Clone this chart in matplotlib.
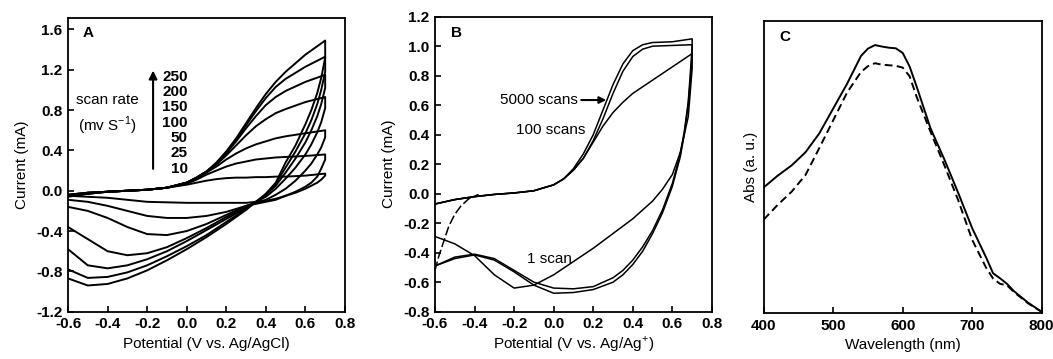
import numpy as np
import matplotlib
matplotlib.use("Agg")
from matplotlib import pyplot as plt
from matplotlib.ticker import FormatStrFormatter, MultipleLocator

plt.rcParams['font.family'] = ['Liberation Sans', 'DejaVu Sans']
plt.rcParams['mathtext.fontset'] = 'custom'
plt.rcParams['mathtext.rm'] = 'Liberation Sans'
plt.rcParams['axes.unicode_minus'] = False
plt.rcParams['axes.linewidth'] = 1.3

# ---------------- panel A : CV at different scan rates ----------------
scan_rates = [10, 25, 50, 100, 150, 200, 250]

# forward (anodic) sweep potentials, V
a_fwd_v = [-0.60, -0.50, -0.40, -0.30, -0.20, -0.10, 0.00, 0.05, 0.10, 0.15,
           0.20, 0.25, 0.30, 0.35, 0.40, 0.45, 0.50, 0.60, 0.70]
a_fwd_10 = [-0.04, -0.02, -0.01, 0.0, 0.01, 0.03, 0.06, 0.08, 0.10, 0.115,
            0.125, 0.13, 0.13, 0.135, 0.135, 0.14, 0.14, 0.15, 0.17]
a_fwd_25 = [-0.04, -0.02, -0.01, 0.0, 0.01, 0.03, 0.07, 0.11, 0.16, 0.20,
            0.24, 0.27, 0.29, 0.31, 0.32, 0.33, 0.335, 0.345, 0.36]
a_fwd_50 = [-0.04, -0.02, -0.01, 0.0, 0.01, 0.03, 0.08, 0.12, 0.18, 0.24,
            0.31, 0.37, 0.42, 0.46, 0.49, 0.52, 0.54, 0.57, 0.60]
a_fwd_100 = [-0.05, -0.02, -0.01, 0.0, 0.01, 0.03, 0.08, 0.13, 0.19, 0.26,
             0.35, 0.45, 0.55, 0.64, 0.71, 0.77, 0.81, 0.88, 0.93]
a_fwd_150 = [-0.05, -0.03, -0.01, 0.0, 0.01, 0.03, 0.08, 0.13, 0.19, 0.27,
             0.37, 0.49, 0.62, 0.74, 0.85, 0.93, 0.99, 1.08, 1.15]
a_fwd_200 = [-0.05, -0.03, -0.01, 0.0, 0.01, 0.03, 0.08, 0.13, 0.19, 0.27,
             0.38, 0.51, 0.65, 0.79, 0.92, 1.03, 1.11, 1.23, 1.33]
a_fwd_250 = [-0.06, -0.03, -0.01, 0.0, 0.01, 0.03, 0.08, 0.13, 0.19, 0.28,
             0.39, 0.52, 0.67, 0.82, 0.96, 1.08, 1.18, 1.35, 1.49]

# reverse (cathodic) sweep potentials, V
a_rev_v = [0.70, 0.70, 0.68, 0.66, 0.63, 0.60, 0.55, 0.50, 0.45, 0.40, 0.35,
           0.30, 0.20, 0.10, 0.00, -0.10, -0.20, -0.30, -0.40, -0.50, -0.60]
a_rev_10 = [0.17, 0.15, 0.11, 0.08, 0.05, 0.02, -0.02, -0.05, -0.08, -0.10, -0.11,
            -0.12, -0.12, -0.12, -0.12, -0.115, -0.11, -0.09, -0.07, -0.06, -0.05]
a_rev_25 = [0.36, 0.31, 0.22, 0.14, 0.08, 0.04, -0.01, -0.05, -0.09, -0.11, -0.13,
            -0.15, -0.21, -0.25, -0.27, -0.27, -0.25, -0.20, -0.15, -0.11, -0.09]
a_rev_50 = [0.60, 0.53, 0.43, 0.36, 0.27, 0.20, 0.10, 0.02, -0.04, -0.09, -0.12,
            -0.15, -0.24, -0.33, -0.40, -0.44, -0.43, -0.36, -0.27, -0.20, -0.16]
a_rev_100 = [0.93, 0.82, 0.68, 0.58, 0.46, 0.36, 0.23, 0.12, 0.02, -0.06, -0.11,
             -0.16, -0.26, -0.37, -0.47, -0.56, -0.62, -0.64, -0.60, -0.48, -0.36]
a_rev_150 = [1.15, 1.02, 0.86, 0.74, 0.60, 0.48, 0.32, 0.18, 0.05, -0.04, -0.11,
             -0.17, -0.28, -0.39, -0.50, -0.60, -0.68, -0.74, -0.77, -0.74, -0.58]
a_rev_200 = [1.33, 1.18, 1.00, 0.86, 0.70, 0.57, 0.39, 0.23, 0.07, -0.04, -0.11,
             -0.18, -0.31, -0.44, -0.55, -0.65, -0.74, -0.81, -0.855, -0.865, -0.78]
a_rev_250 = [1.49, 1.32, 1.12, 0.97, 0.80, 0.66, 0.45, 0.28, 0.08, -0.03, -0.11,
             -0.19, -0.33, -0.46, -0.58, -0.69, -0.79, -0.87, -0.925, -0.94, -0.87]

a_fwd = [a_fwd_10, a_fwd_25, a_fwd_50, a_fwd_100, a_fwd_150, a_fwd_200, a_fwd_250]
a_rev = [a_rev_10, a_rev_25, a_rev_50, a_rev_100, a_rev_150, a_rev_200, a_rev_250]

# ---------------- panel B : CV after cycling ----------------
b_fwd_v = [-0.60, -0.50, -0.40, -0.30, -0.20, -0.10, 0.00, 0.05, 0.10, 0.15,
           0.20, 0.25, 0.30, 0.35, 0.40, 0.45, 0.50, 0.60, 0.70]
b_fwd_1 = [-0.07, -0.04, -0.02, -0.005, 0.005, 0.02, 0.06, 0.10, 0.16, 0.24,
           0.35, 0.46, 0.55, 0.62, 0.68, 0.725, 0.77, 0.86, 0.95]
b_fwd_100 = [-0.07, -0.04, -0.02, -0.005, 0.005, 0.02, 0.06, 0.10, 0.16, 0.24,
             0.36, 0.51, 0.68, 0.83, 0.93, 0.98, 1.00, 1.005, 1.01]
b_fwd_5000 = [-0.07, -0.04, -0.02, -0.005, 0.005, 0.02, 0.06, 0.10, 0.17, 0.27,
              0.40, 0.57, 0.74, 0.88, 0.97, 1.01, 1.025, 1.03, 1.05]

b_rev_v = [0.70, 0.70, 0.69, 0.68, 0.66, 0.64, 0.60, 0.55, 0.50, 0.45, 0.40,
           0.35, 0.30, 0.20, 0.10, 0.00, -0.10, -0.20, -0.30, -0.40, -0.50, -0.60]
b_rev_1 = [0.95, 0.85, 0.68, 0.52, 0.40, 0.28, 0.13, 0.03, -0.05, -0.11, -0.17,
           -0.22, -0.27, -0.37, -0.46, -0.55, -0.62, -0.64, -0.55, -0.42, -0.34, -0.29]
b_rev_100 = [1.01, 0.95, 0.76, 0.60, 0.40, 0.25, 0.05, -0.13, -0.27, -0.39, -0.48,
             -0.55, -0.60, -0.65, -0.67, -0.675, -0.62, -0.53, -0.45, -0.415, -0.44, -0.49]
b_rev_5000 = [1.05, 1.00, 0.80, 0.62, 0.42, 0.27, 0.07, -0.11, -0.25, -0.36, -0.45,
              -0.52, -0.57, -0.63, -0.645, -0.64, -0.60, -0.52, -0.44, -0.41, -0.43, -0.49]

# start of the cycled sweep (drawn broken in the original)
b_start_v = [-0.60, -0.58, -0.55, -0.53, -0.50, -0.47, -0.43, -0.38]
b_start_i = [-0.52, -0.42, -0.30, -0.22, -0.14, -0.085, -0.035, -0.005]

# ---------------- panel C : absorption spectra ----------------
wavelength = [400, 420, 440, 460, 480, 500, 520, 540, 550, 560, 570, 580, 590,
              600, 610, 620, 640, 660, 680, 700, 720, 730, 740, 750, 760, 780, 800]
abs_solid = [0.43, 0.47, 0.505, 0.55, 0.615, 0.70, 0.785, 0.88, 0.905, 0.917,
             0.912, 0.908, 0.906, 0.89, 0.843, 0.775, 0.632, 0.525, 0.41, 0.29,
             0.19, 0.136, 0.119, 0.10, 0.075, 0.036, 0.004]
abs_dashed = [0.32, 0.37, 0.415, 0.472, 0.565, 0.66, 0.755, 0.825, 0.845, 0.855,
              0.85, 0.848, 0.846, 0.84, 0.81, 0.74, 0.62, 0.505, 0.385, 0.25,
              0.155, 0.118, 0.10, 0.095, 0.072, 0.034, 0.004]

FS = 11
fig = plt.figure(figsize=(10.53, 3.59), dpi=100)


def style(ax):
    ax.tick_params(direction='in', length=4, width=1.2, labelsize=FS, pad=4,
                   top=False, right=False)
    for lbl in ax.get_xticklabels() + ax.get_yticklabels():
        lbl.set_fontweight('bold')


# ---- A
axA = fig.add_axes([0.0646, 0.1318, 0.263, 0.817])
for fwd, rev in zip(a_fwd, a_rev):
    axA.plot(a_fwd_v + a_rev_v, fwd + rev, color='k', lw=1.4,
             solid_joinstyle='round')
axA.set_xlim(-0.6, 0.8)
axA.set_ylim(-1.2, 1.71)
axA.xaxis.set_major_locator(MultipleLocator(0.2))
axA.yaxis.set_major_locator(MultipleLocator(0.4))
axA.xaxis.set_major_formatter(FormatStrFormatter('%.1f'))
axA.yaxis.set_major_formatter(FormatStrFormatter('%.1f'))
axA.set_xlabel('Potential (V vs. Ag/AgCl)', fontsize=FS, labelpad=4)
axA.set_ylabel('Current (mA)', fontsize=FS, labelpad=5)
style(axA)
axA.text(0.072, 0.95, 'A', transform=axA.transAxes, fontsize=FS,
         fontweight='bold', ha='center', va='center')
axA.text(-0.40, 0.90, 'scan rate', fontsize=FS, ha='center', va='center')
axA.text(-0.40, 0.64, r'(mv S$^{\mathregular{-1}}$)', fontsize=FS,
         ha='center', va='center')
axA.annotate('', xy=(-0.17, 1.22), xytext=(-0.17, 0.19),
             arrowprops=dict(arrowstyle='-|>', lw=1.5, color='k',
                             mutation_scale=12))
label_y = np.linspace(0.22, 1.13, len(scan_rates))
for rate, yy in zip(scan_rates, label_y):
    axA.text(0.005, yy, str(rate), fontsize=FS, fontweight='bold',
             ha='right', va='center')

# ---- B
axB = fig.add_axes([0.4131, 0.1318, 0.263, 0.8217])
axB.plot(b_fwd_v + b_rev_v, b_fwd_1 + b_rev_1, color='k', lw=1.1)
axB.plot(b_fwd_v + b_rev_v, b_fwd_100 + b_rev_100, color='k', lw=1.1)
axB.plot(b_fwd_v + b_rev_v, b_fwd_5000 + b_rev_5000, color='k', lw=1.1)
axB.plot(b_start_v, b_start_i, color='k', lw=1.1, linestyle=(0, (6, 2)))
axB.set_xlim(-0.6, 0.8)
axB.set_ylim(-0.8, 1.2)
axB.xaxis.set_major_locator(MultipleLocator(0.2))
axB.yaxis.set_major_locator(MultipleLocator(0.2))
axB.xaxis.set_major_formatter(FormatStrFormatter('%.1f'))
axB.yaxis.set_major_formatter(FormatStrFormatter('%.1f'))
axB.set_xlabel(r'Potential (V vs. Ag/Ag$^{+}$)', fontsize=FS, labelpad=2)
axB.set_ylabel('Current (mA)', fontsize=FS, labelpad=5)
style(axB)
axB.text(0.078, 0.944, 'B', transform=axB.transAxes, fontsize=FS,
         fontweight='bold', ha='center', va='center')
axB.text(0.12, 0.635, '5000 scans', fontsize=FS, ha='right', va='center')
axB.annotate('', xy=(0.28, 0.635), xytext=(0.125, 0.635),
             arrowprops=dict(arrowstyle='-|>', lw=1.5, color='k',
                             mutation_scale=10))
axB.text(0.158, 0.43, '100 scans', fontsize=FS, ha='right', va='center')
axB.text(-0.02, -0.44, '1 scan', fontsize=FS, ha='center', va='center')

# ---- C
axC = fig.add_axes([0.7253, 0.128, 0.264, 0.814])
axC.plot(wavelength, abs_solid, color='k', lw=1.4)
axC.plot(wavelength, abs_dashed, color='k', lw=1.4, linestyle=(0, (4, 2.2)))
axC.set_xlim(400, 800)
axC.set_ylim(0, 1)
axC.set_xticks([400, 500, 600, 700, 800])
axC.set_yticks([])
axC.set_xlabel('Wavelength (nm)', fontsize=FS, labelpad=4)
axC.set_ylabel('Abs (a. u.)', fontsize=FS, labelpad=4)
style(axC)
axC.text(0.076, 0.945, 'C', transform=axC.transAxes, fontsize=FS,
         fontweight='bold', ha='center', va='center')

fig.savefig('out.png', dpi=100)
